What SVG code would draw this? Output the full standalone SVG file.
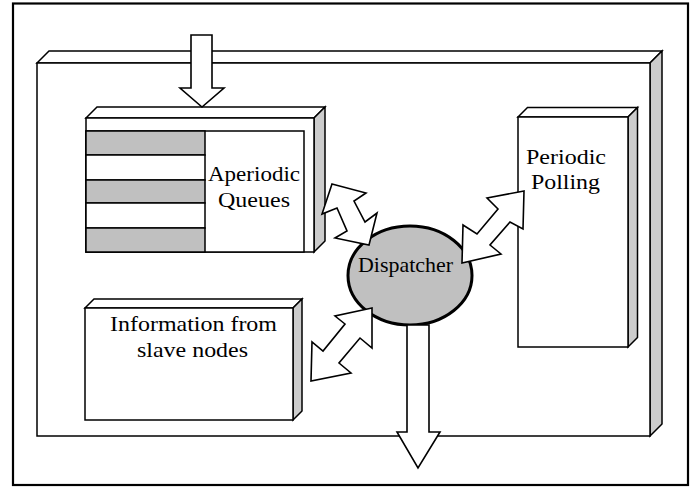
<svg xmlns="http://www.w3.org/2000/svg" width="699" height="487" viewBox="0 0 699 487">
<style>
.face{fill:#ffffff;stroke:#000;stroke-width:1.5;stroke-linejoin:miter}
.side{fill:#cccccc;stroke:#000;stroke-width:1.5}
.stripe{fill:#c0c0c0;stroke:#000;stroke-width:1.5}
.arr{fill:#ffffff;stroke:#000;stroke-width:1.6;stroke-linejoin:miter}
.lbl{font-family:"Liberation Serif","Times New Roman",serif;font-size:22px;fill:#000}
</style>
<rect x="13" y="3.5" width="675" height="481.5" fill="#ffffff" stroke="#000" stroke-width="2.2"/>
<g id="panel">
<polygon class="face" points="37,63 49,51 662,51 650,63"/>
<polygon class="side" points="650,63 662,51 662,424 650,436"/>
<rect class="face" x="37" y="63" width="613" height="373"/>
</g>
<g id="aperiodic-queues">
<polygon class="face" points="86,118 97,107 325,107 314,118"/>
<polygon class="side" points="314,118 325,107 325,241 314,252"/>
<rect class="face" x="86" y="118" width="228" height="134"/>
<rect class="face" x="86" y="131" width="218" height="121"/>
<rect class="stripe" x="86" y="131" width="119" height="24"/>
<rect class="face" x="86" y="155" width="119" height="25"/>
<rect class="stripe" x="86" y="180" width="119" height="23"/>
<rect class="face" x="86" y="203" width="119" height="25"/>
<rect class="stripe" x="86" y="228" width="119" height="24"/>
<text class="lbl" x="208" y="181" textLength="92" lengthAdjust="spacingAndGlyphs">Aperiodic</text>
<text class="lbl" x="218" y="207" textLength="72" lengthAdjust="spacingAndGlyphs">Queues</text>
</g>
<g id="information">
<polygon class="face" points="85,308 94,299 302,299 293,308"/>
<polygon class="side" points="293,308 302,299 302,411 293,420"/>
<rect class="face" x="85" y="308" width="208" height="112"/>
<text class="lbl" x="110" y="331" textLength="167" lengthAdjust="spacingAndGlyphs">Information from</text>
<text class="lbl" x="137" y="357" textLength="111" lengthAdjust="spacingAndGlyphs">slave nodes</text>
</g>
<g id="periodic-polling">
<polygon class="face" points="518,117 527.5,107.5 637.5,107.5 628,117"/>
<polygon class="side" points="628,117 637.5,107.5 637.5,337.5 628,347"/>
<rect class="face" x="518" y="117" width="110" height="230"/>
<text class="lbl" x="526" y="164" textLength="80" lengthAdjust="spacingAndGlyphs">Periodic</text>
<text class="lbl" x="531" y="189" textLength="69" lengthAdjust="spacingAndGlyphs">Polling</text>
</g>
<g id="dispatcher">
<ellipse cx="410" cy="275.5" rx="62" ry="49.5" fill="#c0c0c0" stroke="#000" stroke-width="3"/>
<text class="lbl" x="358" y="272" textLength="95" lengthAdjust="spacingAndGlyphs">Dispatcher</text>
</g>
<g id="connectors">
<polygon class="arr" points="191,35 212,35 212,88 224,88 202,107 180,88 191,88"/>
<polygon class="arr" points="407,325 429,325 429,432 440,432 418,468 397,432 407,432"/>
<polygon class="arr" points="332,184 366,193 354,201 365,222 377,213 369,245 335,238 347,231 337,208 322,214"/>
<polygon class="arr" points="524,191 487,198 498,209 477,234 463,225 462,263 501,254 490,245 510,222 523,229"/>
<polygon class="arr" points="372,308 335,316 345,324 323,351 312,342 311,381 351,373 339,363 360,338 372,348"/>
</g>
</svg>
